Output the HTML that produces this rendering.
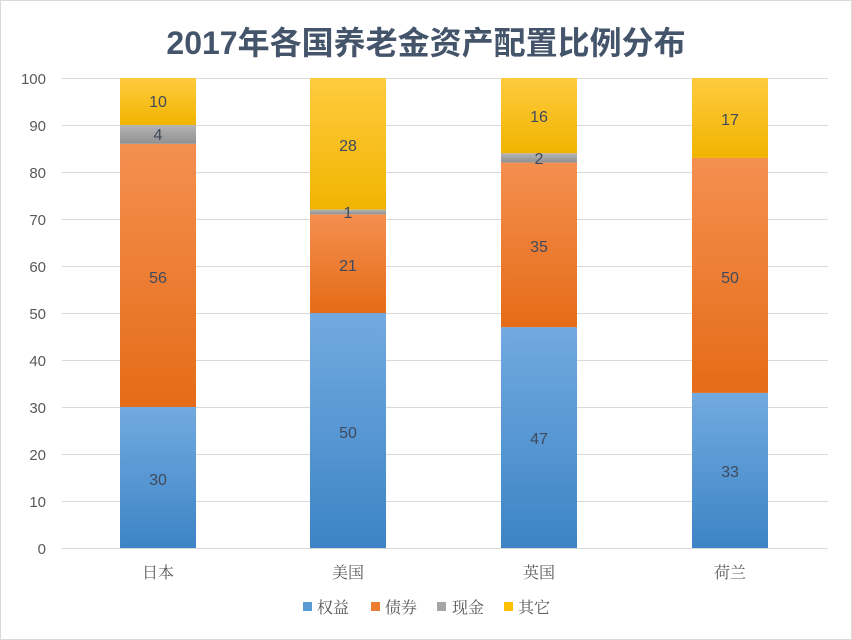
<!DOCTYPE html>
<html><head><meta charset="utf-8"><style>
html,body{margin:0;padding:0;background:#fff}
svg{display:block}
</style></head><body>
<svg width="852" height="640" viewBox="0 0 852 640" xmlns="http://www.w3.org/2000/svg">
<defs>
<linearGradient id="b" x1="0" y1="0" x2="0" y2="1"><stop offset="0" stop-color="#72aae0"/><stop offset="1" stop-color="#3d84c6"/></linearGradient>
<linearGradient id="o" x1="0" y1="0" x2="0" y2="1"><stop offset="0" stop-color="#f48f50"/><stop offset="1" stop-color="#e56c17"/></linearGradient>
<linearGradient id="g" x1="0" y1="0" x2="0" y2="1"><stop offset="0" stop-color="#b5b5b5"/><stop offset="1" stop-color="#909090"/></linearGradient>
<linearGradient id="y" x1="0" y1="0" x2="0" y2="1"><stop offset="0" stop-color="#ffcb3f"/><stop offset="1" stop-color="#f0b400"/></linearGradient>
</defs>
<rect x="0.5" y="0.5" width="851" height="639" fill="#fff" stroke="#d9d9d9"/>
<text x="426" y="54" text-anchor="middle" font-family="Liberation Sans,'Noto Sans CJK SC',sans-serif" font-size="32" font-weight="bold" fill="#44546a">2017年各国养老金资产配置比例分布</text>
<g stroke="#d9d9d9" stroke-width="1">
<line x1="62" x2="828" y1="78.5" y2="78.5"/><line x1="62" x2="828" y1="125.5" y2="125.5"/><line x1="62" x2="828" y1="172.5" y2="172.5"/><line x1="62" x2="828" y1="219.5" y2="219.5"/><line x1="62" x2="828" y1="266.5" y2="266.5"/><line x1="62" x2="828" y1="313.5" y2="313.5"/><line x1="62" x2="828" y1="360.5" y2="360.5"/><line x1="62" x2="828" y1="407.5" y2="407.5"/><line x1="62" x2="828" y1="454.5" y2="454.5"/><line x1="62" x2="828" y1="501.5" y2="501.5"/><line x1="62" x2="828" y1="548.5" y2="548.5"/>
</g>
<g font-family="Liberation Sans,sans-serif" font-size="15" fill="#595959" text-anchor="end">
<text x="46" y="84">100</text><text x="46" y="131">90</text><text x="46" y="178">80</text><text x="46" y="225">70</text><text x="46" y="272">60</text><text x="46" y="319">50</text><text x="46" y="366">40</text><text x="46" y="413">30</text><text x="46" y="460">20</text><text x="46" y="507">10</text><text x="46" y="554">0</text>
</g>
<rect x="120" y="407" width="76" height="141" fill="url(#b)"/>
<rect x="120" y="143.8" width="76" height="263.2" fill="url(#o)"/>
<rect x="120" y="125" width="76" height="18.8" fill="url(#g)"/>
<rect x="120" y="78" width="76" height="47" fill="url(#y)"/>
<rect x="310" y="313" width="76" height="235" fill="url(#b)"/>
<rect x="310" y="214.3" width="76" height="98.7" fill="url(#o)"/>
<rect x="310" y="209.6" width="76" height="4.7" fill="url(#g)"/>
<rect x="310" y="78" width="76" height="131.6" fill="url(#y)"/>
<rect x="501" y="327.1" width="76" height="220.9" fill="url(#b)"/>
<rect x="501" y="162.6" width="76" height="164.5" fill="url(#o)"/>
<rect x="501" y="153.2" width="76" height="9.4" fill="url(#g)"/>
<rect x="501" y="78" width="76" height="75.2" fill="url(#y)"/>
<rect x="692" y="392.9" width="76" height="155.1" fill="url(#b)"/>
<rect x="692" y="157.9" width="76" height="235" fill="url(#o)"/>
<rect x="692" y="78" width="76" height="79.9" fill="url(#y)"/>
<g font-family="Liberation Sans,sans-serif" font-size="16" fill="#3f4a5c" text-anchor="middle">
<text x="158" y="485">30</text><text x="158" y="283">56</text><text x="158" y="140">4</text><text x="158" y="107">10</text>
<text x="348" y="438">50</text><text x="348" y="271">21</text><text x="348" y="218">1</text><text x="348" y="151">28</text>
<text x="539" y="444">47</text><text x="539" y="252">35</text><text x="539" y="164">2</text><text x="539" y="122">16</text>
<text x="730" y="477">33</text><text x="730" y="283">50</text><text x="730" y="125">17</text>
</g>
<g font-family="Liberation Serif,'Noto Serif CJK SC',serif" font-size="16" fill="#595959" text-anchor="middle">
<text x="158" y="578">日本</text><text x="348" y="578">美国</text><text x="539" y="578">英国</text><text x="730" y="578">荷兰</text>
</g>
<rect x="303" y="602" width="9" height="9" fill="#5b9bd5"/>
<rect x="371" y="602" width="9" height="9" fill="#ed7d31"/>
<rect x="437" y="602" width="9" height="9" fill="#a5a5a5"/>
<rect x="504" y="602" width="9" height="9" fill="#ffc000"/>
<g font-family="Liberation Serif,'Noto Serif CJK SC',serif" font-size="16" fill="#595959">
<text x="317" y="613">权益</text><text x="385" y="613">债券</text><text x="452" y="613">现金</text><text x="518" y="613">其它</text>
</g>
</svg>
</body></html>
